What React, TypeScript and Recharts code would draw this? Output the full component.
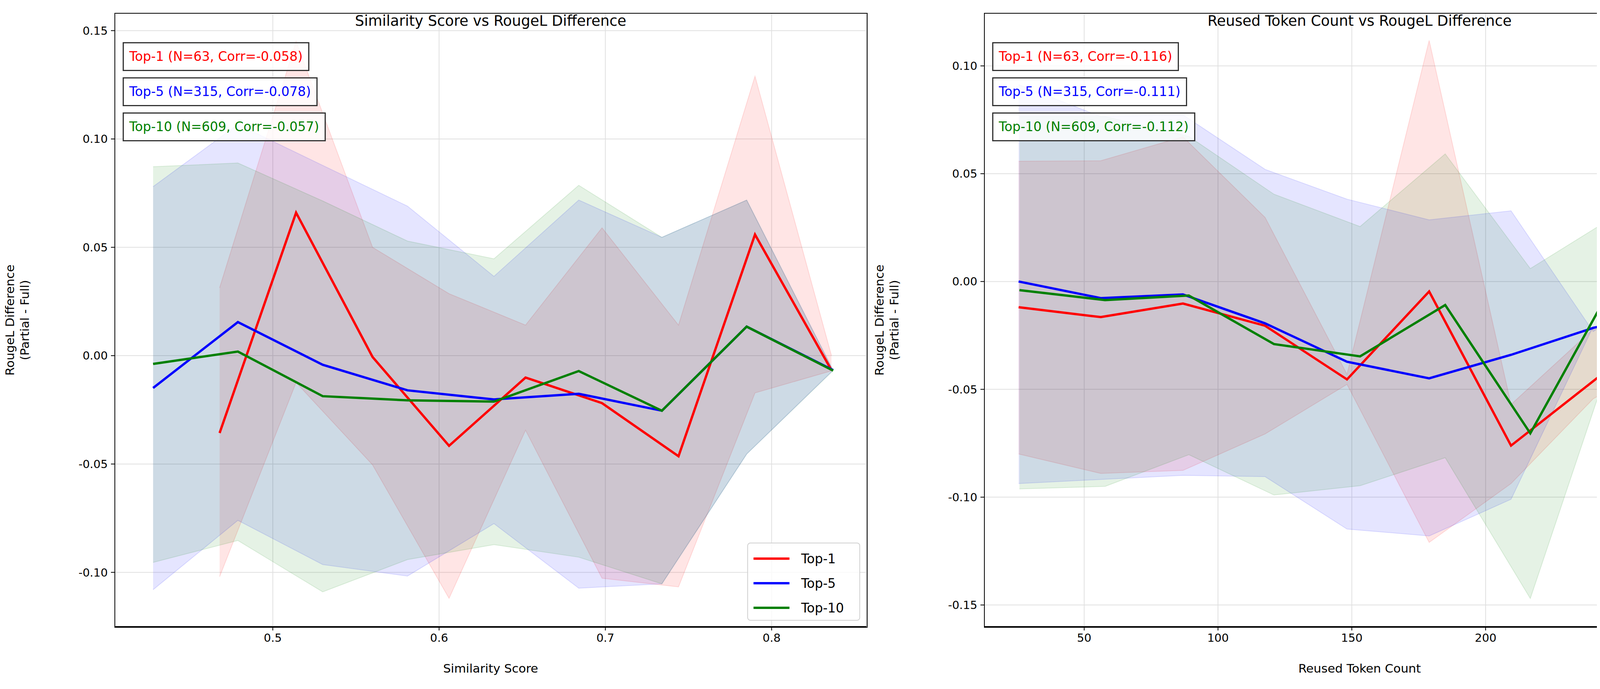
import React from "react";
import { ComposedChart, Area, Line, XAxis, YAxis, CartesianGrid } from "recharts";

// ---------- Left panel: Similarity Score ----------
const simTop1X = [0.468, 0.514, 0.56, 0.606, 0.652, 0.698, 0.744, 0.79, 0.836];
const simTop1Y = [-0.0357, 0.066, -0.0006, -0.0416, -0.0101, -0.0219, -0.0464, 0.0559, -0.0067];
const simTop1Hi = [0.0313, 0.145, 0.05, 0.0286, 0.0141, 0.059, 0.0141, 0.129, 0.0];
const simTop1Lo = [-0.102, -0.0124, -0.0504, -0.112, -0.0344, -0.1027, -0.1067, -0.0172, -0.007];

const simTop5X = [0.428, 0.479, 0.53, 0.581, 0.633, 0.684, 0.734, 0.785, 0.837];
const simTop5Y = [-0.0149, 0.0155, -0.0042, -0.016, -0.0202, -0.0176, -0.0254, 0.0134, -0.0067];
const simTop5Hi = [0.078, 0.1067, 0.0878, 0.069, 0.0366, 0.0718, 0.0546, 0.0718, -0.0067];
const simTop5Lo = [-0.108, -0.076, -0.0964, -0.1017, -0.0775, -0.1073, -0.1053, -0.0454, -0.0067];

const simTop10X = [0.428, 0.479, 0.53, 0.581, 0.633, 0.684, 0.734, 0.785, 0.837];
const simTop10Y = [-0.0038, 0.0019, -0.0187, -0.0206, -0.0212, -0.0071, -0.0254, 0.0134, -0.0069];
const simTop10Hi = [0.0872, 0.0889, 0.0714, 0.0529, 0.0447, 0.0786, 0.0546, 0.0718, -0.0069];
const simTop10Lo = [-0.0954, -0.0853, -0.109, -0.0941, -0.0872, -0.093, -0.1053, -0.0454, -0.0069];

// ---------- Right panel: Reused Token Count ----------
const tokTop1X = [25.5, 56.2, 86.9, 117.6, 148.2, 178.9, 209.5, 240.2, 270.9];
const tokTop1Y = [-0.0119, -0.0165, -0.0102, -0.0205, -0.0454, -0.0046, -0.0761, -0.0462, -0.0163];
const tokTop1Hi = [0.0558, 0.056, 0.0671, 0.0297, -0.043, 0.1118, -0.057, -0.022, 0.0];
const tokTop1Lo = [-0.08, -0.089, -0.0876, -0.0707, -0.0477, -0.121, -0.0937, -0.0544, -0.0334];

const tokTop5X = [25.5, 56.2, 86.9, 117.6, 148.2, 178.9, 209.5, 240.2, 270.9];
const tokTop5Y = [0.0, -0.0077, -0.006, -0.0194, -0.0372, -0.0449, -0.034, -0.0215, -0.0125];
const tokTop5Hi = [0.0913, 0.0765, 0.0773, 0.052, 0.0382, 0.0286, 0.0328, -0.0232, 0.0025];
const tokTop5Lo = [-0.0937, -0.0918, -0.0899, -0.0905, -0.1148, -0.118, -0.101, -0.0209, -0.027];

const tokTop10X = [25.8, 57.8, 89.1, 120.9, 153.1, 184.9, 216.7, 248.5, 280.4];
const tokTop10Y = [-0.004, -0.0086, -0.0065, -0.029, -0.0347, -0.0109, -0.0704, 0.0008, -0.04];
const tokTop10Hi = [0.0765, 0.0765, 0.0673, 0.0405, 0.0255, 0.0592, 0.006, 0.0305, 0.0008];
const tokTop10Lo = [-0.0962, -0.095, -0.0803, -0.099, -0.0947, -0.0817, -0.147, -0.0295, -0.081];

const simXTicks = [0.5, 0.6, 0.7, 0.8];
const simYTicks = [-0.1, -0.05, 0, 0.05, 0.1, 0.15];
const tokXTicks = [50, 100, 150, 200, 250];
const tokYTicks = [-0.15, -0.1, -0.05, 0, 0.05, 0.1];

const simLabels = ["Top-1 (N=63, Corr=-0.058)", "Top-5 (N=315, Corr=-0.078)", "Top-10 (N=609, Corr=-0.057)"];
const tokLabels = ["Top-1 (N=63, Corr=-0.116)", "Top-5 (N=315, Corr=-0.111)", "Top-10 (N=609, Corr=-0.112)"];
const seriesNames = ["Top-1", "Top-5", "Top-10"];
const colors = ["#ff0000", "#0000ff", "#008000"];

const build = (xs: number[], ys: number[], hi: number[], lo: number[]) =>
  xs.map((x, i) => ({ x, y: ys[i], band: [lo[i], hi[i]] }));

const FONT = "DejaVu Sans, sans-serif";

type PanelProps = {
  left: number;
  width: number;
  plotLeft: number;
  plotRight: number;
  title: string;
  xLabel: string;
  xDomain: [number, number];
  yDomain: [number, number];
  xTicks: number[];
  yTicks: number[];
  series: { x: number; y: number; band: number[] }[][];
  labels: string[];
};

const PLOT_TOP = 26;
const PLOT_BOTTOM = 1597;
const CH = 1749;
const YW = 150;
const XH = 80;

function Panel(p: PanelProps) {
  const W = p.width;
  const margin = { top: PLOT_TOP, left: p.plotLeft - YW, right: W - p.plotRight, bottom: CH - PLOT_BOTTOM - XH };
  const pw = p.plotRight - p.plotLeft;
  const tick = { fill: "#000", fontSize: 29, fontFamily: FONT };
  return (
    <div style={{ position: "absolute", left: p.left, top: 0, width: W, height: CH, overflow: "hidden" }}>
      <ComposedChart width={W} height={CH} margin={margin}>
        <CartesianGrid stroke="#e0e0e0" strokeWidth={2} />
        <XAxis
          type="number"
          dataKey="x"
          domain={p.xDomain}
          ticks={p.xTicks}
          tickFormatter={(v: number) => String(v)}
          allowDataOverflow
          height={XH}
          tick={tick}
          tickSize={10}
          tickMargin={8}
          stroke="#000"
          strokeWidth={2}
        />
        <YAxis
          type="number"
          domain={p.yDomain}
          ticks={p.yTicks}
          tickFormatter={(v: number) => v.toFixed(2)}
          allowDataOverflow
          width={YW}
          tick={tick}
          tickSize={10}
          tickMargin={8}
          stroke="#000"
          strokeWidth={2}
        />
        {p.series.map((d, i) => (
          <Area
            key={"a" + i}
            data={d}
            dataKey="band"
            type="linear"
            fill={colors[i]}
            fillOpacity={0.1}
            stroke={colors[i]}
            strokeOpacity={0.12}
            strokeWidth={2}
            isAnimationActive={false}
            dot={false}
            activeDot={false}
          />
        ))}
        {p.series.map((d, i) => (
          <Line
            key={"l" + i}
            data={d}
            dataKey="y"
            type="linear"
            stroke={colors[i]}
            strokeWidth={6}
            dot={false}
            activeDot={false}
            isAnimationActive={false}
          />
        ))}
      </ComposedChart>
      <div style={{ position: "absolute", left: p.plotLeft - 1, top: PLOT_TOP - 1, width: pw, height: PLOT_BOTTOM - PLOT_TOP, border: "2px solid #000", pointerEvents: "none" }} />
      <div style={{ position: "absolute", left: p.plotLeft, width: pw, top: 26, textAlign: "center", fontFamily: FONT, fontSize: 37, lineHeight: "40px" }}>
        {p.title}
      </div>
      <div style={{ position: "absolute", left: p.plotLeft, width: pw, top: 1686, textAlign: "center", fontFamily: FONT, fontSize: 31, lineHeight: "36px" }}>
        {p.xLabel}
      </div>
      <div style={{ position: "absolute", left: p.plotLeft - 250, top: (PLOT_TOP + PLOT_BOTTOM) / 2, width: 0, height: 0 }}>
        <div style={{ position: "absolute", left: 0, top: 0, transform: "translate(-50%,-50%) rotate(-90deg)", whiteSpace: "nowrap", textAlign: "center", fontFamily: FONT, fontSize: 31, lineHeight: "38px" }}>
          RougeL Difference<br />(Partial - Full)
        </div>
      </div>
      {p.labels.map((t, i) => (
        <div key={t} style={{ position: "absolute", left: p.plotLeft + 20, top: 100 + i * 90, padding: "0 14px", height: 68, lineHeight: "68px", border: "3px solid #333", background: "rgba(255,255,255,0.8)", color: colors[i], fontFamily: FONT, fontSize: 33, whiteSpace: "nowrap" }}>
          {t}
        </div>
      ))}
      <div style={{ position: "absolute", left: p.plotRight - 305, top: 1382, width: 285, height: 196, border: "2px solid #d0d0d0", borderRadius: 8, background: "rgba(255,255,255,0.8)", fontFamily: FONT, fontSize: 33 }}>
        {seriesNames.map((n, i) => (
          <div key={n} style={{ position: "absolute", left: 14, top: 14 + i * 63, height: 50, display: "flex", alignItems: "center" }}>
            <div style={{ width: 92, height: 6, background: colors[i], marginRight: 30 }} />
            <span>{n}</span>
          </div>
        ))}
      </div>
    </div>
  );
}

export default function App() {
  const simSeries = [
    build(simTop1X, simTop1Y, simTop1Hi, simTop1Lo),
    build(simTop5X, simTop5Y, simTop5Hi, simTop5Lo),
    build(simTop10X, simTop10Y, simTop10Hi, simTop10Lo),
  ];
  const tokSeries = [
    build(tokTop1X, tokTop1Y, tokTop1Hi, tokTop1Lo),
    build(tokTop5X, tokTop5Y, tokTop5Hi, tokTop5Lo),
    build(tokTop10X, tokTop10Y, tokTop10Hi, tokTop10Lo),
  ];
  return (
    <div style={{ position: "relative", width: 4454, height: CH, background: "#fff", overflow: "hidden" }}>
      <Panel
        left={0}
        width={2227}
        plotLeft={286}
        plotRight={2210}
        title="Similarity Score vs RougeL Difference"
        xLabel="Similarity Score"
        xDomain={[0.405, 0.857]}
        yDomain={[-0.125, 0.158]}
        xTicks={simXTicks}
        yTicks={simYTicks}
        series={simSeries}
        labels={simLabels}
      />
      <Panel
        left={2227}
        width={2227}
        plotLeft={285}
        plotRight={2206}
        title="Reused Token Count vs RougeL Difference"
        xLabel="Reused Token Count"
        xDomain={[12.7, 293.1]}
        yDomain={[-0.16, 0.1244]}
        xTicks={tokXTicks}
        yTicks={tokYTicks}
        series={tokSeries}
        labels={tokLabels}
      />
    </div>
  );
}
